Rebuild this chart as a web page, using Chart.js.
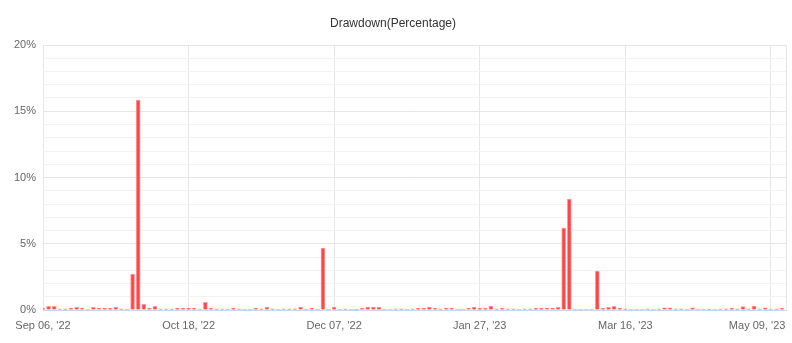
<!DOCTYPE html>
<html>
<head>
<meta charset="utf-8">
<script src="https://cdn.jsdelivr.net/npm/chart.js@4.4.0/dist/chart.umd.min.js"></script>
<style>
  body { margin: 0; background: #fff; }
  #wrap { width: 792px; height: 343px; position: relative; }
</style>
</head>
<body>
<div id="wrap"><canvas id="ddChart"></canvas></div>
<script>
// drawdown per trading day, in percent (index = trading day number)
const drawdown = [
  0.13, 0.28, 0.28, 0.08, 0.08, 0.13, 0.2, 0.13, 0, 0.2,
  0.13, 0.13, 0.13, 0.2, 0.08, 0, 2.72, 15.85, 0.43, 0.13,
  0.28, 0.08, 0.08, 0.08, 0.13, 0.13, 0.13, 0.13, 0, 0.58,
  0.13, 0.08, 0.08, 0, 0.13, 0.08, 0, 0, 0.13, 0.08,
  0.22, 0.08, 0, 0.08, 0.08, 0.08, 0.22, 0, 0.13, 0,
  4.68, 0, 0.22, 0, 0.08, 0, 0, 0.13, 0.22, 0.22,
  0.22, 0, 0, 0.08, 0.08, 0, 0.08, 0.13, 0.13, 0.22,
  0.13, 0.08, 0.13, 0.13, 0, 0, 0.13, 0.22, 0.13, 0.13,
  0.3, 0.08, 0.13, 0.08, 0.08, 0, 0.08, 0.08, 0.13, 0.13,
  0.13, 0.13, 0.2, 6.18, 8.37, 0, 0, 0, 0, 2.94,
  0.13, 0.2, 0.28, 0.13, 0.08, 0, 0, 0, 0.08, 0,
  0.08, 0.17, 0.17, 0.08, 0.08, 0, 0.17, 0, 0, 0.08,
  0, 0.08, 0.08, 0.13, 0.08, 0.25, 0.08, 0.3, 0.08, 0.17,
  0, 0.08, 0.13
];
const dayIndex = drawdown.map((v, i) => i);

// x axis labels and the trading day they sit on
const tickIndex = [0, 26, 52, 78, 104, 130];
const tickLabels = ["Sep 06, '22", "Oct 18, '22", "Dec 07, '22", "Jan 27, '23", "Mar 16, '23", "May 09, '23"];
const xMax = 132.7;

const font = "'Liberation Sans', Arial, sans-serif";

const ctx = document.getElementById("ddChart").getContext("2d");
new Chart(ctx, {
  type: "bar",
  data: {
    datasets: [{
      data: dayIndex.map(i => ({ x: i, y: drawdown[i] })),
      backgroundColor: "#ff4545",
      borderColor: "#ff9c9c",
      borderWidth: c => (c.raw && c.raw.y > 0 ? 1 : 0),  // no mark for zero days
      barThickness: 4
    }]
  },
  options: {
    responsive: true,
    maintainAspectRatio: false,
    animation: false,
    layout: { padding: { left: 0, right: 6, top: 0, bottom: 0 } },
    plugins: {
      legend: { display: false },
      tooltip: { enabled: false },
      title: {
        display: true,
        text: "Drawdown(Percentage)",
        color: "#333333",
        font: { family: font, size: 12, weight: "normal" },
        padding: { top: 16, bottom: 14.6 }
      }
    },
    scales: {
      x: {
        type: "linear",
        offset: false,
        min: 0,
        max: xMax,
        afterBuildTicks: scale => {
          scale.ticks = tickIndex.concat([xMax]).map(v => ({ value: v }));
        },
        afterFit: scale => {
          scale.height = 33;
          scale.paddingRight = 0;  // tick padding shouldn't eat the right edge
        },
        grid: { color: "#e6e6e6", drawTicks: false, offset: false },
        border: { color: "#ccd6eb" },
        ticks: {
          autoSkip: false,
          maxRotation: 0,
          padding: 9,
          color: "#666666",
          font: { family: font, size: 11 },
          callback: function(value) {
            const k = tickIndex.indexOf(value);
            if (k < 0) return "";
            // last label is pushed left to stay inside the canvas
            return k === tickLabels.length - 1 ? tickLabels[k] + "         " : tickLabels[k];
          }
        }
      },
      y: {
        min: 0,
        max: 20,
        afterFit: scale => { scale.width = 43; },
        grid: {
          drawTicks: false,
          color: c => (c.tick.value % 5 === 0 ? "#e6e6e6" : "#f3f3f3")
        },
        border: { display: false },
        ticks: {
          stepSize: 1,
          autoSkip: false,
          padding: 7,
          color: "#666666",
          font: { family: font, size: 11 },
          callback: v => (v % 5 === 0 ? v + "%" : "")
        }
      }
    }
  }
});
</script>
</body>
</html>
